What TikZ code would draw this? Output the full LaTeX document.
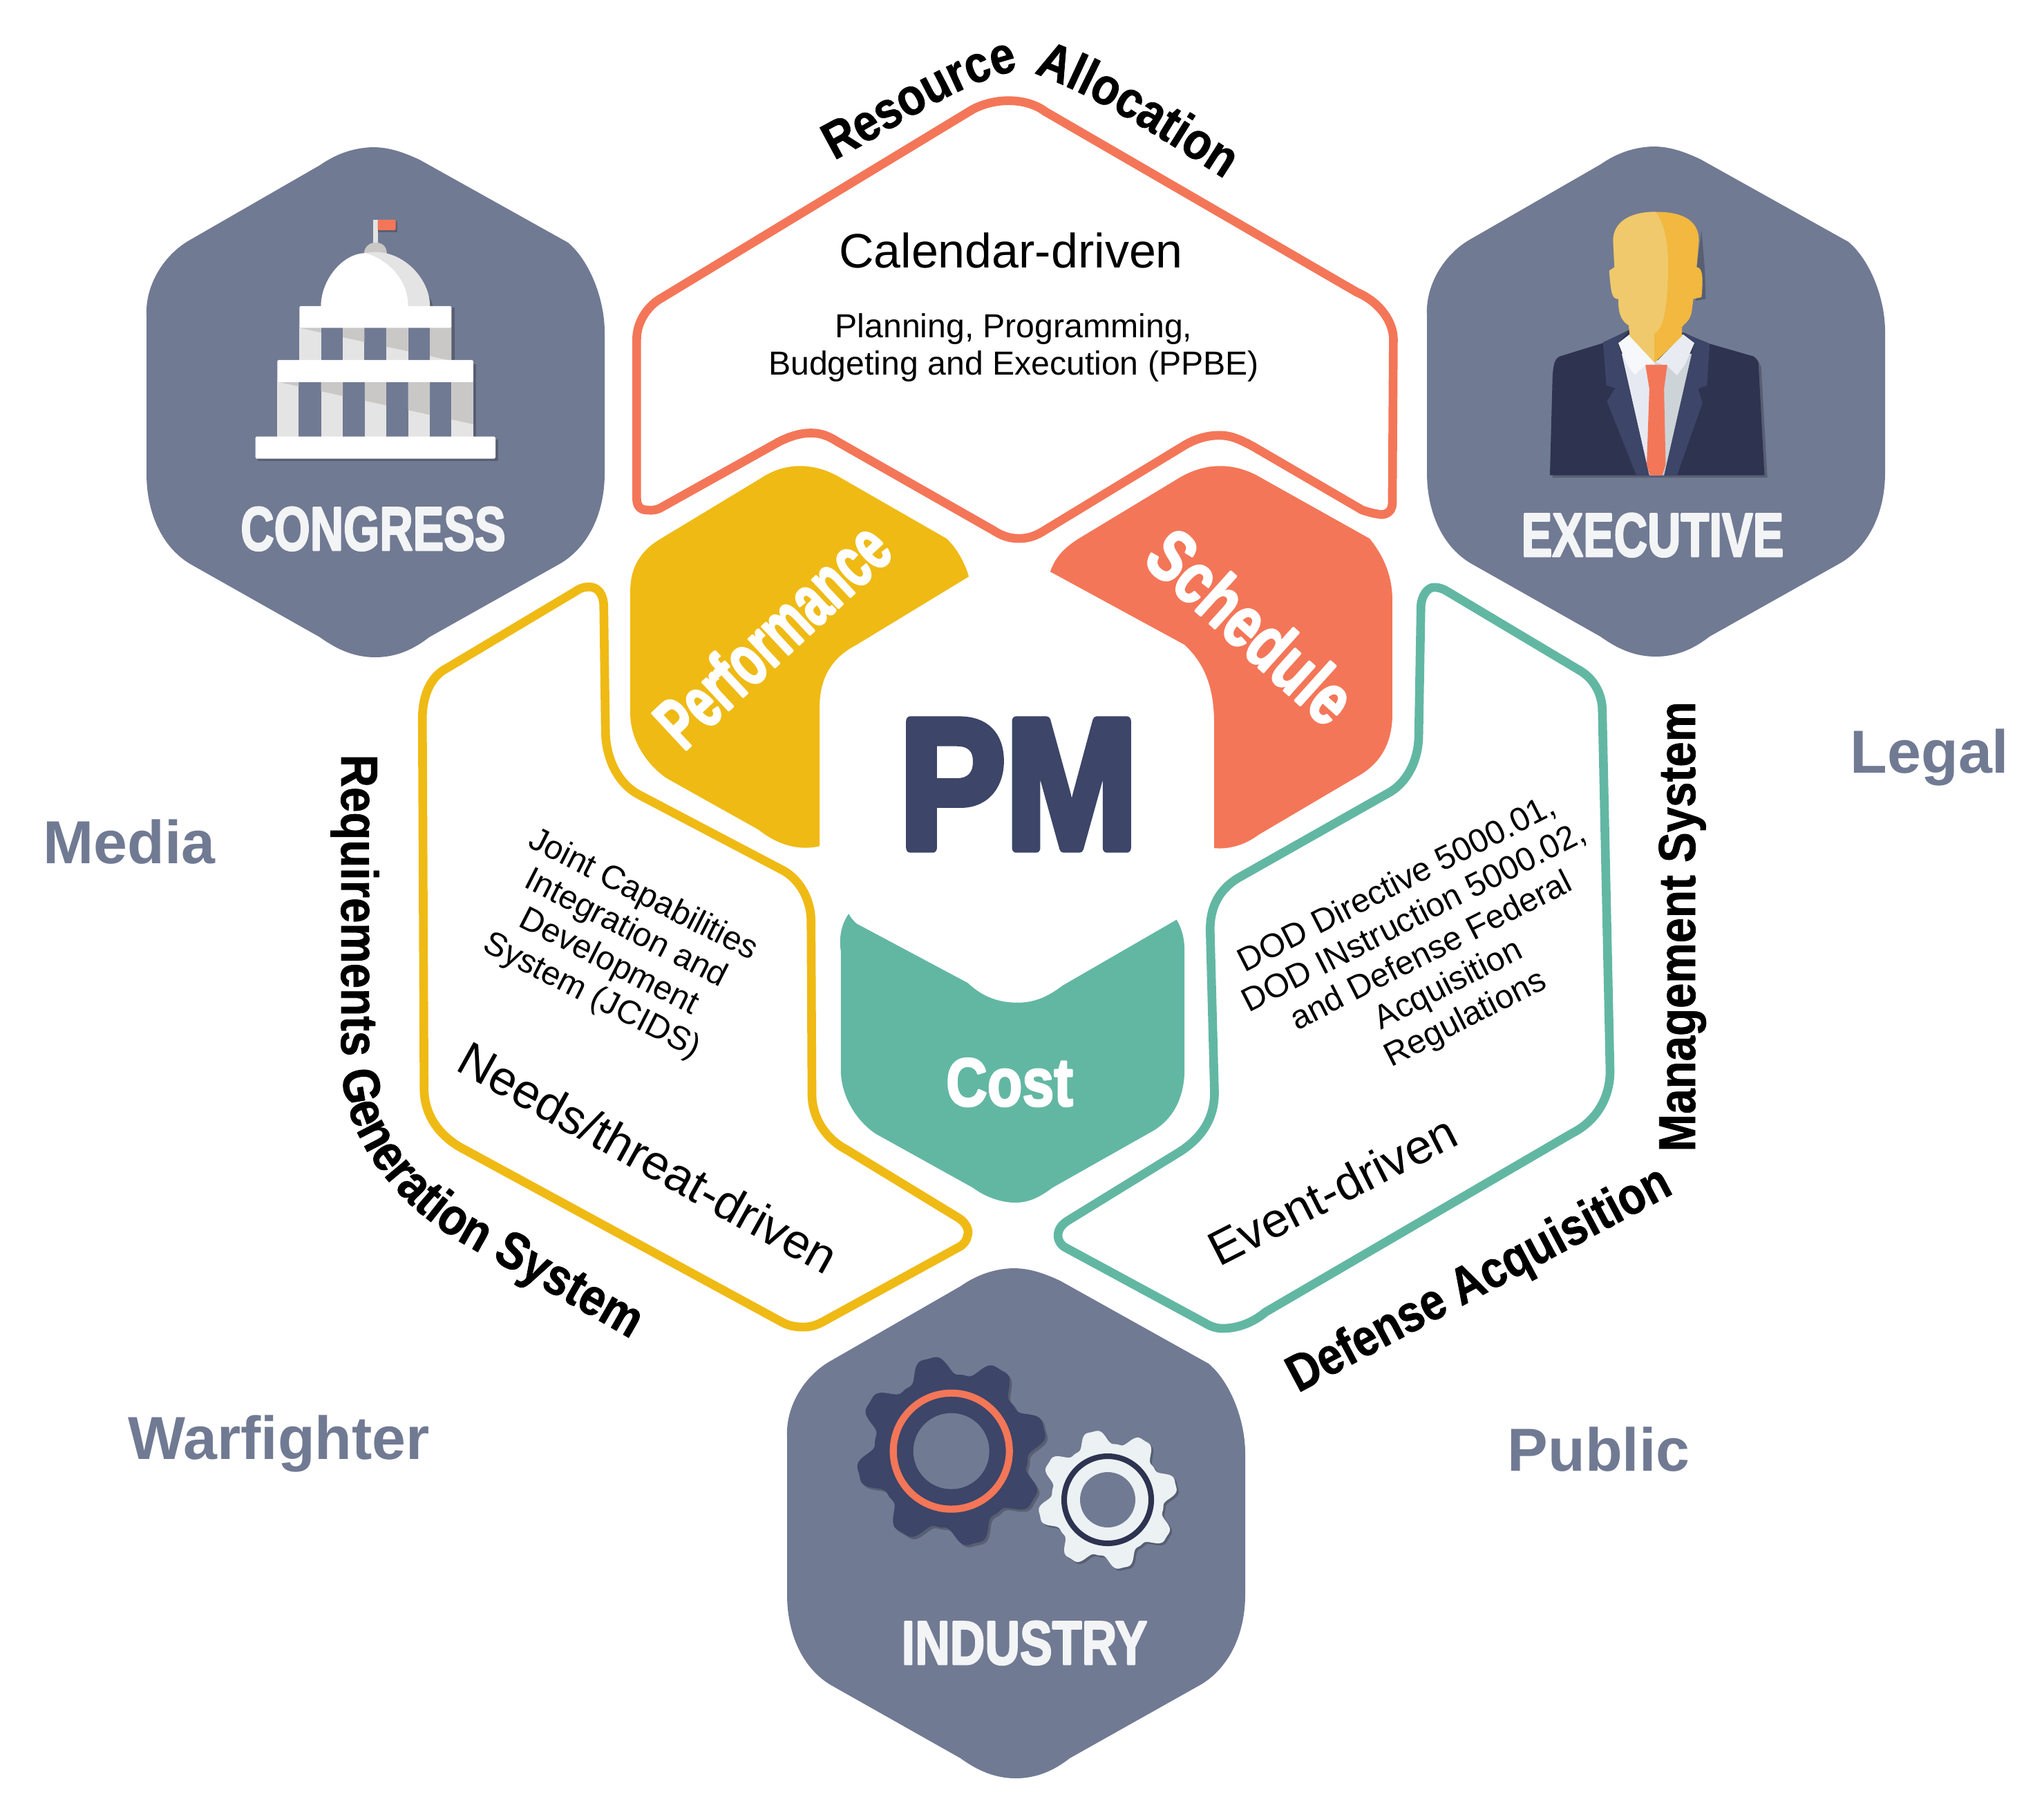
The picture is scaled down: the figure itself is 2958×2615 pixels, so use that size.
\documentclass[tikz,border=0pt]{standalone}
\usepackage{fontspec}
\usetikzlibrary{decorations.text}
\setmainfont{Liberation Sans}
\newfontfamily\heavyfont[BoldFeatures={FakeBold=3}]{Liberation Sans}
\newfontfamily\blackfont[BoldFeatures={FakeBold=5}]{Liberation Sans}
\newfontfamily\pathfont[FakeStretch=.87,BoldFeatures={FakeBold=1}]{Liberation Sans}
\definecolor{hexc}{HTML}{717A93}
\definecolor{goldc}{HTML}{EFBA14}
\definecolor{coralc}{HTML}{F47658}
\definecolor{tealc}{HTML}{62B7A3}
\definecolor{navyc}{HTML}{3D4568}
\definecolor{darkc}{HTML}{2E3350}
\definecolor{paperc}{HTML}{F3F4F6}
\definecolor{shirtL}{HTML}{E6E9F1}
\definecolor{shirtR}{HTML}{CDD4D8}
\definecolor{collarL}{HTML}{F6F8FB}
\definecolor{collarR}{HTML}{E8EBF2}
\definecolor{headD}{HTML}{F2B83F}
\definecolor{headL}{HTML}{EFC96B}
\definecolor{gearW}{HTML}{ECF1F4}
\definecolor{colL}{HTML}{E4E4E4}
\definecolor{colD}{HTML}{C9C8C6}
\newcommand{\hexat}[2]{\fill[hexc,shift={(#1,#2)}] (-4,-369) .. controls (-35,-368) and (-60,-357) .. (-80,-343)
 -- (-266,-236) .. controls (-305,-215) and (-333,-170) .. (-331,-126)
 -- (-331,103) .. controls (-331,165) and (-305,213) .. (-266,235)
 -- (-80,340) .. controls (-55,358) and (-30,369) .. (0,369)
 .. controls (30,369) and (55,358) .. (78,340)
 -- (265,235) .. controls (305,213) and (332,165) .. (332,103)
 -- (332,-101) .. controls (332,-150) and (310,-205) .. (279,-231)
 -- (64,-351) .. controls (40,-362) and (20,-369) .. (-4,-369) -- cycle;}
% gear: cx cy R A t0
\newcommand{\gearpath}[5]{plot[domain=0:359,samples=240,smooth] ({#1+(#3+#4*(cos(8*(\x-#5))-cos(24*(\x-#5))/6))*cos(\x)},{#2+(#3+#4*(cos(8*(\x-#5))-cos(24*(\x-#5))/6))*sin(\x)}) -- cycle}
\tikzset{
 framepath/.style={line width=3.6pt,line join=round},
 bigword/.style={font=\heavyfont\bfseries\fontsize{25.4}{30}\selectfont,text=paperc,inner sep=0},
 sideword/.style={font=\bfseries\fontsize{25}{30}\selectfont,text=hexc,inner sep=0,anchor=base west},
 drivenword/.style={font=\fontsize{19.9}{23}\selectfont,text=black,inner sep=0},
 smallblock/.style={font=\fontsize{13.7}{15.5}\selectfont,text=black,inner sep=0,align=center},
 wedgeword/.style={font=\heavyfont\bfseries\fontsize{28}{32}\selectfont,text=white,inner sep=0},
 slantword/.style={font=\heavyfont\bfseries\fontsize{30}{34}\selectfont,text=white,inner sep=0},
 sysword/.style={font=\pathfont\bfseries\fontsize{21.4}{25}\selectfont,text=black,inner sep=0},
 softshadow/.style={fill=black,fill opacity=.22},
 zoomA/.style={shift={(180,180)},xscale=.4719,yscale=.5102},
 zoomB/.style={shift={(2040,180)},xscale=.4719,yscale=.5102},
 zoomD/.style={shift={(880,640)},xscale=.7653,yscale=.7143},
 zoomE/.style={shift={(880,40)},xscale=.7526,yscale=.4847},
 zoomF/.style={shift={(450,820)},xscale=.625,yscale=.7334},
 zoomG/.style={shift={(1500,820)},xscale=.625,yscale=.7844},
 alongpath/.style={decorate,decoration={text along path,text align={left},text={|\pathfont\bfseries\fontsize{21.4}{25}\selectfont|#1}}},
}
\begin{document}
\begin{tikzpicture}[x=0.01cm,y=-0.01cm,line join=round,miter limit=1]
\useasboundingbox (0,0) rectangle (2958,2615);
\fill[white] (0,0) rectangle (2958,2615);

% outer hexagons
\hexat{543}{582}
\hexat{2396}{581}
\hexat{1470}{2204}

% capitol
\begin{scope}[zoomA]
 \fill[softshadow] (410,893) rectangle (1146,955);
 \fill[softshadow] (1003,520) rectangle (1012,668);
 \fill[softshadow] (1070,680) rectangle (1078,885);
 \fill[softshadow] (775,275) rectangle (838,306);
 \fill[softshadow] (870,440) .. controls (900,450) and (945,490) .. (945,515) -- (870,515) -- cycle;
 \fill[colL] (763,270) rectangle (777,340);
 \fill[coralc,rounded corners=.5pt] (777,270) rectangle (832,300);
 \fill[colD] (735,368) .. controls (735,345) and (755,335) .. (770,335) .. controls (790,335) and (805,345) .. (805,368) -- cycle;
 \fill[colL] (603,515) .. controls (603,440) and (680,362) .. (770,362) .. controls (860,362) and (937,440) .. (937,515) -- cycle;
 \fill[white] (603,515) .. controls (603,440) and (670,365) .. (740,365) .. controls (810,385) and (870,440) .. (870,515) -- cycle;
 \foreach \a/\b in {537/603,670/736,803/870,937/1003} {\fill[colL] (\a,570) rectangle (\b,668);}
 \foreach \a/\b in {469/535,603/670,737/803,870/937,1003/1070} {\fill[colL] (\a,725) rectangle (\b,885);}
 \begin{scope}
  \clip (537,570) rectangle (603,668) (670,570) rectangle (736,668) (803,570) rectangle (870,668) (937,570) rectangle (1003,668);
  \fill[colD] (537,560) -- (1003,560) -- (1003,670.2) -- (537,577) -- cycle;
 \end{scope}
 \begin{scope}
  \clip (469,725) rectangle (535,885) (603,725) rectangle (670,885) (737,725) rectangle (803,885) (870,725) rectangle (937,885) (1003,725) rectangle (1070,885);
  \fill[colD] (469,720) -- (1070,720) -- (1070,850.2) -- (469,730) -- cycle;
 \end{scope}
 \fill[white,rounded corners=.5pt] (537,515) rectangle (1003,577);
 \fill[white,rounded corners=.5pt] (469,668) rectangle (1070,731);
 \fill[white,rounded corners=.5pt] (402,885) rectangle (1138,948);
\end{scope}

% executive figure
\begin{scope}[zoomB]
 \fill[softshadow] (438,1002) -- (447,725) -- (458,675) -- (598,628) -- (843,590) -- (928,630) -- (1068,668) -- (1078,688) -- (1097,1002) -- cycle;
 \fill[darkc] (430,995) -- (438,720) .. controls (440,680) and (445,665) .. (460,658) -- (593,620) -- (675,582) -- (835,590) -- (920,622) -- (1055,658) .. controls (1065,665) and (1070,672) .. (1070,685) -- (1088,995) -- cycle;
 \fill[navyc] (593,618) -- (675,583) -- (640,620) -- (735,995) -- (695,995) -- (605,785) -- (630,748) -- (603,740) -- cycle;
 \fill[navyc] (920,622) -- (835,590) -- (873,620) -- (780,995) -- (820,995) -- (898,790) -- (885,750) -- (912,740) -- cycle;
 \fill[shirtL] (650,650) -- (752,670) -- (752,995) -- (735,995) -- cycle;
 \fill[shirtR] (865,650) -- (752,670) -- (752,995) -- (780,995) -- cycle;
 \fill[collarL] (640,620) -- (675,595) -- (752,675) -- (720,685) -- (690,710) -- (665,680) -- cycle;
 \fill[collarR] (873,620) -- (838,595) -- (755,675) -- (790,685) -- (820,712) -- (845,680) -- cycle;
 \fill[coralc] (723,682) -- (790,682) -- (780,750) -- (785,965) -- (775,995) -- (737,995) -- (727,965) -- (735,750) -- cycle;
 \fill[softshadow] (895,300) -- (905,410) -- (908,495) -- (878,500) -- (872,470) -- cycle;
 \fill[headD] (755,248) .. controls (850,248) and (887,280) .. (887,330) -- (880,405) .. controls (900,405) and (900,440) .. (895,490) -- (870,495) -- (865,530) .. controls (860,560) and (840,565) .. (835,575) -- (835,600) -- (752,675) -- (675,600) -- (672,570) .. controls (645,555) and (640,530) .. (640,495) .. controls (620,495) and (618,480) .. (612,415) -- (628,405) -- (624,330) .. controls (624,280) and (670,248) .. (755,248) -- cycle;
 \fill[headL] (755,248) .. controls (790,290) and (795,370) .. (792,430) .. controls (790,530) and (775,585) .. (750,592) -- (750,675) -- (675,600) -- (672,570) .. controls (645,555) and (640,530) .. (640,495) .. controls (620,495) and (618,480) .. (612,415) -- (628,405) -- (624,330) .. controls (624,280) and (670,248) .. (755,248) -- cycle;
\end{scope}

% gears
\fill[softshadow] \gearpath{1380}{2103}{124.5}{15.6}{256};
\fill[navyc] \gearpath{1376.7}{2099.6}{124.5}{15.6}{256};
\draw[coralc,line width=2.9pt] (1376.7,2099.6) circle (84);
\fill[hexc] (1376.7,2099.6) circle (55);
\fill[softshadow] \gearpath{1606}{2173}{91}{11.5}{257};
\fill[gearW] \gearpath{1603}{2170}{91}{11.5}{257};
\draw[darkc,line width=2.3pt] (1603,2170) circle (63);
\fill[hexc] (1603,2170) circle (40);

% central wedges
\begin{scope}[zoomD]
 \fill[goldc] (290,72) .. controls (335,40) and (390,40) .. (440,72) -- (640,195) .. controls (660,215) and (675,245) .. (682,272) -- (470,410) .. controls (425,435) and (398,475) .. (400,545) -- (400,818) .. controls (360,828) and (320,815) .. (285,785) -- (110,680) .. controls (70,650) and (42,600) .. (42,550) -- (42,300) .. controls (42,255) and (60,220) .. (100,195) -- cycle;
 \fill[coralc] (1080,72) .. controls (1130,40) and (1185,40) .. (1235,72) -- (1440,195) .. controls (1470,235) and (1483,275) .. (1483,320) -- (1483,550) .. controls (1483,610) and (1460,650) .. (1420,675) -- (1230,795) .. controls (1205,815) and (1175,825) .. (1146,822) -- (1146,570) .. controls (1146,500) and (1130,450) .. (1090,410) -- (836,262) .. controls (845,235) and (860,215) .. (890,195) -- cycle;
 \fill[tealc] (455,955) .. controls (460,965) and (465,970) .. (470,975) -- (680,1095) .. controls (710,1125) and (740,1135) .. (775,1135) .. controls (810,1135) and (835,1120) .. (860,1100) -- (1075,967) .. controls (1085,985) and (1090,1005) .. (1090,1030) -- (1090,1270) .. controls (1090,1325) and (1070,1370) .. (1030,1395) -- (840,1510) .. controls (815,1530) and (795,1540) .. (770,1540) .. controls (745,1540) and (715,1530) .. (690,1510) -- (505,1400) .. controls (465,1370) and (440,1320) .. (440,1270) -- (440,1030) .. controls (436,1000) and (442,975) .. (455,955) -- cycle;
\end{scope}

% frames
\begin{scope}[zoomE]
 \draw[coralc,framepath] (770,218) .. controls (800,218) and (825,232) .. (840,250) -- (1440,790) .. controls (1485,820) and (1510,880) .. (1510,930) -- (1508,1420) .. controls (1508,1445) and (1495,1458) .. (1480,1452) .. controls (1470,1450) and (1460,1445) .. (1450,1440) -- (1240,1250) .. controls (1210,1225) and (1195,1217) .. (1175,1217) .. controls (1150,1217) and (1125,1230) .. (1105,1250) -- (840,1500) .. controls (825,1515) and (810,1525) .. (790,1525) .. controls (770,1525) and (755,1515) .. (740,1500) -- (440,1235) .. controls (425,1220) and (410,1210) .. (390,1210) .. controls (370,1210) and (350,1220) .. (330,1235) -- (105,1430) .. controls (95,1440) and (85,1442) .. (75,1440) .. controls (60,1440) and (55,1425) .. (55,1405) -- (55,930) .. controls (55,880) and (75,830) .. (105,805) -- (700,245) .. controls (720,228) and (745,218) .. (770,218) -- cycle;
\end{scope}
\begin{scope}[zoomF]
 \draw[goldc,framepath] (640,40) .. controls (665,38) and (678,55) .. (678,80) -- (682,330) .. controls (685,385) and (715,430) .. (760,450) -- (1095,600) .. controls (1135,620) and (1158,660) .. (1158,700) -- (1160,1040) .. controls (1160,1090) and (1195,1130) .. (1240,1150) -- (1500,1285) .. controls (1518,1295) and (1525,1310) .. (1520,1320) .. controls (1518,1330) and (1512,1335) .. (1505,1340) -- (1195,1485) .. controls (1175,1495) and (1160,1500) .. (1140,1500) .. controls (1120,1500) and (1105,1497) .. (1090,1490) -- (345,1145) .. controls (295,1120) and (262,1080) .. (262,1030) -- (258,300) .. controls (258,250) and (280,215) .. (315,200) -- (610,50) .. controls (620,44) and (630,40) .. (640,40) -- cycle;
\end{scope}
\begin{scope}[zoomG]
 \draw[tealc,framepath] (920,38) .. controls (930,38) and (940,40) .. (950,45) -- (1255,190) .. controls (1290,205) and (1310,235) .. (1310,265) -- (1328,930) .. controls (1328,985) and (1290,1025) .. (1240,1045) -- (530,1375) .. controls (500,1395) and (465,1405) .. (430,1405) .. controls (415,1405) and (400,1400) .. (390,1395) -- (65,1255) .. controls (55,1250) and (48,1240) .. (50,1230) .. controls (52,1220) and (60,1212) .. (75,1205) -- (330,1080) .. controls (380,1055) and (412,1020) .. (412,970) -- (402,670) .. controls (402,625) and (425,595) .. (465,575) -- (820,415) .. controls (860,395) and (885,355) .. (885,310) -- (890,75) .. controls (890,55) and (905,38) .. (920,38) -- cycle;
\end{scope}

% wedge labels
\node[slantword,rotate=43] (perf) at (1117,918) {\scalebox{.65}[1]{Performance}};
\node[slantword,rotate=-42] (sched) at (1811,906) {\scalebox{.77}[1]{Schedule}};
\node[wedgeword,anchor=base] (cost) at (1461,1600) {\scalebox{.84}[1]{Cost}};
\node[anchor=base,inner sep=0,text=navyc,font=\blackfont\bfseries\fontsize{76}{80}\selectfont] (pm) at (1474,1227) {\scalebox{.86}[1]{PM}};

% hexagon labels
\node[bigword,anchor=base] (congress) at (540,796) {\scalebox{.75}[1]{CONGRESS}};
\node[bigword,anchor=base] (executive) at (2391.5,805) {\scalebox{.75}[1]{EXECUTIVE}};
\node[bigword,anchor=base] (industry) at (1482.5,2408) {\scalebox{.785}[1]{INDUSTRY}};

% side labels
\node[sideword] (media) at (62,1249) {Media};
\node[sideword] (legal) at (2677,1118) {Legal};
\node[sideword] (warf) at (185,2111) {Warfighter};
\node[sideword] (public) at (2181,2128) {Public};

% inner texts
\node[drivenword] (cal) at (1463,362) {Calendar-driven};
\node[smallblock] (ppbe) at (1467,503) {Planning, Programming,\\Budgeting and Execution (PPBE)};
\node[drivenword,rotate=-29] (needs) at (938,1675) {Needs/threat-driven};
\node[smallblock,rotate=-27] (jcids) at (893,1369) {Joint Capabilities\\Integration and\\Development\\System (JCIDS)};
\node[drivenword,rotate=27] (event) at (1928,1722) {Event-driven};
\node[smallblock,rotate=27] (dod) at (2072,1378) {DOD Directive 5000.01,\\DOD INstruction 5000.02,\\and Defense Federal\\Acquisition\\Regulations};

% system labels
\path[alongpath=Resource] (1207,232) .. controls (1300,185) and (1390,115) .. (1490,98);
\path[alongpath=Allocation] (1496,106) .. controls (1590,140) and (1680,200) .. (1800,277);
\node[sysword,rotate=-90,anchor=base west] (req) at (494,1091) {Requirements};
\path[alongpath={Generation System}] (495,1550) .. controls (500,1650) and (575,1755) .. (705,1818) -- (970,1970);
\node[sysword,rotate=28,anchor=base west] (defense) at (1878,2016) {\scalebox{.98}[1]{Defense Acquisition}};
\node[sysword,rotate=90,anchor=base west] (mgmt) at (2453,1667) {Management System};
\end{tikzpicture}
\end{document}
